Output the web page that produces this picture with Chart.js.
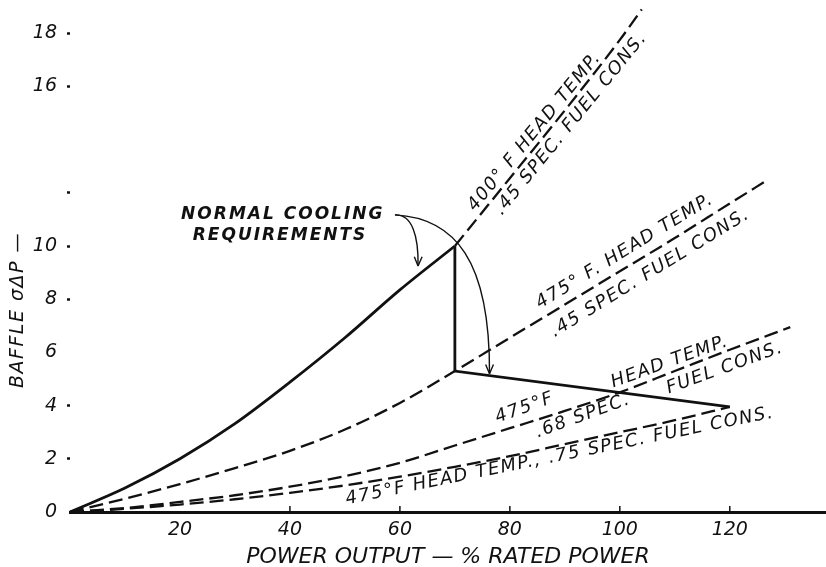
<!DOCTYPE html>
<html>
<head>
<meta charset="utf-8">
<script src="https://cdn.jsdelivr.net/npm/chart.js@4.4.0/dist/chart.umd.min.js"></script>
<style>
body { margin: 0; background: #fff; }
#wrap { width: 826px; height: 567px; }
</style>
</head>
<body>
<div id="wrap"><canvas id="chart" width="826" height="567"></canvas></div>
<script>
// power output (% rated) and baffle sigma-delta-P
const powerPts = [0, 10, 20, 30, 40, 50, 60, 70];
const head400Solid = [0, 0.9, 2.0, 3.32, 4.88, 6.55, 8.35, 10.0];

const head400Power = [70, 80, 90, 100, 104];
const head400Dash = [10.0, 12.55, 15.1, 17.75, 18.9];

const spec45Power = [0, 10, 20, 30, 40, 50, 60, 70, 80, 90, 100, 110, 120, 127];
const spec45Vals = [0, 0.5, 1.05, 1.65, 2.3, 3.1, 4.1, 5.3, 6.55, 7.8, 9.05, 10.3, 11.6, 12.5];

const spec68Power = [0, 10, 20, 30, 40, 50, 60, 70, 80, 90, 100, 110, 120, 131];
const spec68Vals = [0, 0.15, 0.38, 0.63, 0.95, 1.35, 1.85, 2.5, 3.15, 3.8, 4.5, 5.3, 6.1, 6.95];

const spec75Power = [0, 10, 20, 30, 40, 50, 60, 70, 80, 90, 100, 110, 120];
const spec75Vals = [0, 0.12, 0.28, 0.48, 0.72, 1.0, 1.33, 1.7, 2.1, 2.55, 3.0, 3.45, 3.95];

// normal cooling: drop at 70% then run down to the .75 curve at 120%
const limitPower = [70, 70, 120];
const limitVals = [10.0, 5.3, 3.95];

const xTickLabels = [20, 40, 60, 80, 100, 120];
const xTickMarks = [40, 60, 80, 100, 120];
const yTickLabels = [0, 2, 4, 6, 8, 10, 16, 18];
const yTickDots = [2, 4, 8, 10, 12, 16, 18];

const ink = '#111';
const FONT = '"DejaVu Sans", sans-serif';

function pts(xs, ys) {
  return xs.map((x, i) => ({ x: x, y: ys[i] }));
}

function line(data, dashed, width, smooth) {
  return {
    data: data,
    borderColor: ink,
    borderWidth: width,
    borderDash: dashed ? [14, 6] : [],
    pointRadius: 0,
    tension: smooth ? 0.4 : 0,
    cubicInterpolationMode: smooth ? 'monotone' : 'default',
    fill: false,
    clip: 4
  };
}

// curve labels, placed by centre in data units
const notes = [
  { text: '400° F HEAD TEMP.', x: 84.5, y: 14.3, rot: -50.7 },
  { text: '.45 SPEC. FUEL CONS.', x: 91.1, y: 14.6, rot: -50.7 },
  { text: '475° F. HEAD TEMP.', x: 100.9, y: 9.8, rot: -31.5 },
  { text: '.45 SPEC. FUEL CONS.', x: 105.5, y: 8.98, rot: -31.5 },
  { text: '475°F', x: 82.7, y: 3.91, rot: -20 },
  { text: '.68 SPEC.', x: 93.3, y: 3.61, rot: -20 },
  { text: 'HEAD TEMP.', x: 109.1, y: 5.64, rot: -20 },
  { text: 'FUEL CONS.', x: 119.1, y: 5.41, rot: -20 },
  { text: '475°F HEAD TEMP., .75 SPEC. FUEL CONS.', x: 89.1, y: 2.1, rot: -11.5 }
];

const heading = [
  { text: 'NORMAL COOLING', x: 38.7, y: 11.2 },
  { text: 'REQUIREMENTS', x: 38.2, y: 10.41 }
];

const arrows = [
  { from: [59.1, 11.17], c1: [62.2, 11.2], c2: [63.4, 10.4], to: [63.3, 9.25] },
  { from: [59.1, 11.17], c1: [70, 11.05], c2: [76.4, 9.47], to: [76.3, 5.2] }
];

const extras = {
  id: 'extras',
  afterDatasetsDraw(chart) {
    const ctx = chart.ctx;
    const xs = chart.scales.x, ys = chart.scales.y;
    const area = chart.chartArea;
    ctx.save();
    ctx.strokeStyle = ink;
    ctx.fillStyle = ink;

    // small upward tick marks on the power axis
    ctx.lineWidth = 1.5;
    xTickMarks.forEach(v => {
      const px = xs.getPixelForValue(v);
      ctx.beginPath();
      ctx.moveTo(px, area.bottom);
      ctx.lineTo(px, area.bottom - 6);
      ctx.stroke();
    });

    // labels on the curves
    ctx.textAlign = 'center';
    ctx.textBaseline = 'middle';
    ctx.font = 'italic 18px ' + FONT;
    ctx.letterSpacing = '1.5px';
    notes.forEach(n => {
      ctx.save();
      ctx.translate(xs.getPixelForValue(n.x), ys.getPixelForValue(n.y));
      ctx.rotate(n.rot * Math.PI / 180);
      ctx.fillText(n.text, 0, 0);
      ctx.restore();
    });

    ctx.font = 'italic bold 17px ' + FONT;
    ctx.letterSpacing = '2px';
    heading.forEach(n => {
      ctx.fillText(n.text, xs.getPixelForValue(n.x), ys.getPixelForValue(n.y));
    });

    // arrows from "normal cooling requirements"
    ctx.lineWidth = 1.4;
    arrows.forEach(a => {
      const p = v => [xs.getPixelForValue(v[0]), ys.getPixelForValue(v[1])];
      const s = p(a.from), c1 = p(a.c1), c2 = p(a.c2), e = p(a.to);
      ctx.beginPath();
      ctx.moveTo(s[0], s[1]);
      ctx.bezierCurveTo(c1[0], c1[1], c2[0], c2[1], e[0], e[1]);
      ctx.stroke();
      const ang = Math.atan2(e[1] - c2[1], e[0] - c2[0]);
      ctx.beginPath();
      [-0.4, 0.4].forEach(d => {
        ctx.moveTo(e[0], e[1]);
        ctx.lineTo(e[0] - 10 * Math.cos(ang + d), e[1] - 10 * Math.sin(ang + d));
      });
      ctx.stroke();
    });

    // vertical axis title
    ctx.font = 'italic 19px ' + FONT;
    ctx.letterSpacing = '1.5px';
    ctx.save();
    ctx.translate(18, 310);
    ctx.rotate(-Math.PI / 2);
    ctx.fillText('BAFFLE σΔP —', 0, 0);
    ctx.restore();

    ctx.restore();
  }
};

new Chart(document.getElementById('chart'), {
  type: 'line',
  data: {
    datasets: [
      line(pts(powerPts, head400Solid), false, 2.8, true),
      line(pts(limitPower, limitVals), false, 2.8, false),
      line(pts(head400Power, head400Dash), true, 2.3, true),
      line(pts(spec45Power, spec45Vals), true, 2.3, true),
      line(pts(spec68Power, spec68Vals), true, 2.3, true),
      line(pts(spec75Power, spec75Vals), true, 2.3, true)
    ]
  },
  options: {
    responsive: false,
    devicePixelRatio: 1,
    animation: false,
    layout: { padding: 0 },
    plugins: {
      legend: { display: false },
      tooltip: { enabled: false }
    },
    scales: {
      x: {
        type: 'linear',
        min: 0,
        max: 137.5,
        afterFit: s => { s.height = 55; s.paddingRight = 0; s.paddingLeft = 0; },
        border: { display: true, color: ink, width: 3 },
        grid: { drawOnChartArea: false, drawTicks: false },
        ticks: {
          stepSize: 20,
          padding: 7,
          color: ink,
          font: { family: FONT, size: 19, style: 'italic' },
          callback: v => xTickLabels.includes(v) ? String(v) : ''
        },
        title: {
          display: true,
          text: 'POWER OUTPUT — % RATED POWER',
          color: ink,
          padding: { top: 0, bottom: -3 },
          font: { family: FONT, size: 22, style: 'italic' }
        }
      },
      y: {
        type: 'linear',
        min: 0,
        max: 19.25,
        afterFit: s => { s.width = 70; s.paddingTop = 0; s.paddingBottom = 0; },
        border: { display: false },
        grid: {
          drawOnChartArea: false,
          drawTicks: true,
          tickLength: 3,
          tickWidth: 2.5,
          tickColor: c => yTickDots.includes(c.tick.value) ? ink : 'rgba(0,0,0,0)'
        },
        ticks: {
          stepSize: 2,
          padding: 10,
          color: ink,
          font: { family: FONT, size: 19, style: 'italic' },
          callback: v => yTickLabels.includes(v) ? String(v) : ''
        }
      }
    }
  },
  plugins: [extras]
});
</script>
</body>
</html>
